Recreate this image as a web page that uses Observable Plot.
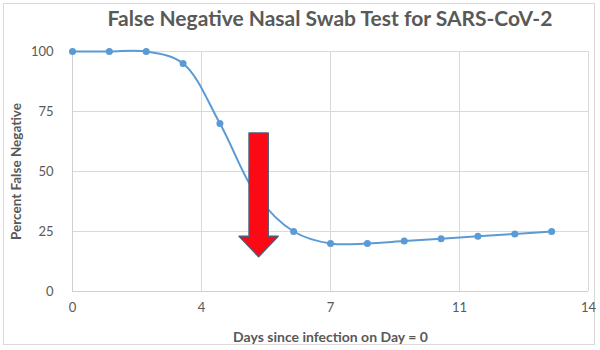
<!DOCTYPE html>
<html>
<head>
<meta charset="utf-8">
<script src="https://cdn.jsdelivr.net/npm/d3@7"></script>
<script src="https://cdn.jsdelivr.net/npm/@observablehq/plot@0.6"></script>
<style>
  html, body { margin: 0; padding: 0; background: #ffffff; }
  #wrap { position: relative; width: 600px; height: 350px; font-family: Lato, "Open Sans", sans-serif; }
  #frame { position: absolute; left: 3px; top: 3px; width: 592px; height: 342px; border: 1px solid #d9d9d9; box-sizing: border-box; }
  #title { position: absolute; left: 72px; width: 516px; top: 5px; text-align: center; font-size: 21px; font-weight: bold; color: #595959; }
  #chart { position: absolute; left: 0; top: 40px; }
  #chart svg [aria-label="x-axis label"] text { font-weight: bold; font-size: 14px; fill: #595959; }
  #chart svg [aria-label="y-axis label"] text { font-weight: bold; font-size: 13.5px; fill: #595959; }
</style>
</head>
<body>
<div id="wrap">
  <div id="frame"></div>
  <div id="title">False Negative Nasal Swab Test for SARS-CoV-2</div>
  <div id="chart"></div>
</div>
<script>
const days = [0, 1, 2, 3, 4, 5, 6, 7, 8, 9, 10, 11, 12, 13];
const percentFalseNegative = [100, 100, 100, 95, 70, 40, 25, 20, 20, 21, 22, 23, 24, 25];
const xTicks = [0, 3.5, 7, 10.5, 14];
const xTickLabels = ["0", "4", "7", "11", "14"];
const yTicks = [0, 25, 50, 75, 100];
const titleText = "False Negative Nasal Swab Test for SARS-CoV-2";
const xLabel = "Days since infection on Day = 0";
const yLabel = "Percent False Negative";
// annotation arrow (in data units)
const arrowDay = 5.05;
const arrowTop = 66;
const arrowHeadBase = 23;
const arrowTip = 14.5;
const arrowShaftHalf = 0.26;
const arrowHeadHalf = 0.53;

const data = days.map((d, i) => ({day: d, pct: percentFalseNegative[i]}));
const arrow = [
  {x: arrowDay - arrowShaftHalf, y: arrowTop},
  {x: arrowDay + arrowShaftHalf, y: arrowTop},
  {x: arrowDay + arrowShaftHalf, y: arrowHeadBase},
  {x: arrowDay + arrowHeadHalf, y: arrowHeadBase},
  {x: arrowDay, y: arrowTip},
  {x: arrowDay - arrowHeadHalf, y: arrowHeadBase},
  {x: arrowDay - arrowShaftHalf, y: arrowHeadBase}
];

document.getElementById("title").textContent = titleText;

const chart = Plot.plot({
  width: 600,
  height: 310,
  marginTop: 11,
  marginBottom: 59,
  marginLeft: 72,
  marginRight: 12,
  style: {fontFamily: "Lato, 'Open Sans', sans-serif", fontSize: "13px", color: "#595959", background: "transparent", overflow: "visible"},
  x: {domain: [0, 14]},
  y: {domain: [0, 100]},
  marks: [
    Plot.gridX(xTicks, {stroke: "#d9d9d9", strokeOpacity: 1}),
    Plot.gridY(yTicks, {stroke: "#d9d9d9", strokeOpacity: 1}),
    Plot.ruleX([0], {stroke: "#d0d0d0"}),
    Plot.ruleY([0], {stroke: "#d0d0d0"}),
    Plot.axisX({ticks: xTicks, tickSize: 0, tickPadding: 11, tickFormat: (d, i) => xTickLabels[xTicks.indexOf(d)],
      label: xLabel, labelAnchor: "center", labelArrow: "none", labelOffset: 50, fill: "#595959"}),
    Plot.axisY({ticks: yTicks, tickSize: 0, tickPadding: 19,
      label: yLabel, labelAnchor: "center", labelArrow: "none", labelOffset: 61, fill: "#595959"}),
    Plot.line(data, {x: "day", y: "pct", curve: "catmull-rom", stroke: "#5b9bd5", strokeWidth: 2}),
    Plot.dot(data, {x: "day", y: "pct", r: 3.5, fill: "#5b9bd5", stroke: "none"}),
    Plot.line(arrow, {x: "x", y: "y", curve: "linear-closed", fill: "#fb0a16", stroke: "#4f5b78", strokeWidth: 1.5})
  ]
});
document.getElementById("chart").appendChild(chart);
</script>
</body>
</html>
